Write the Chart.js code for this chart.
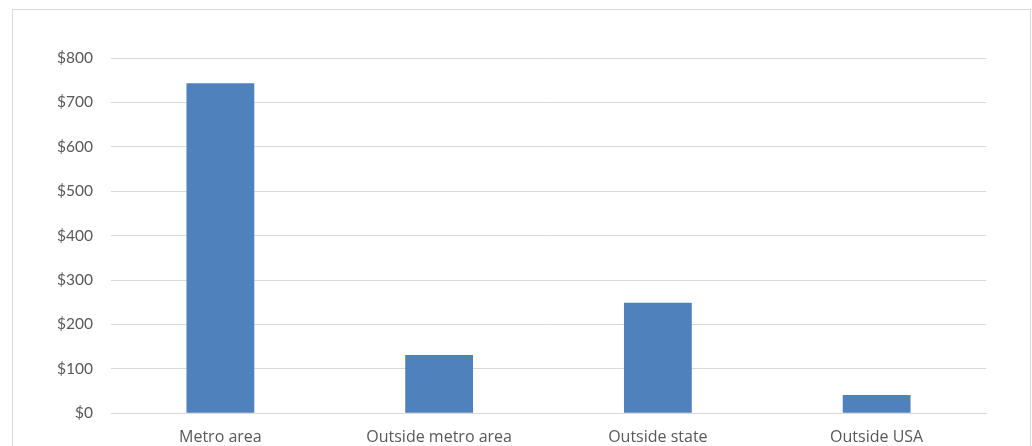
<!DOCTYPE html>
<html>
<head>
<meta charset="utf-8">
<script src="https://cdn.jsdelivr.net/npm/chart.js@4/dist/chart.umd.min.js"></script>
<style>
  html, body { margin: 0; padding: 0; background: #fff; }
  #wrap { position: relative; width: 1032px; height: 446px; }
</style>
</head>
<body>
<div id="wrap"><canvas id="c" width="1032" height="446"></canvas></div>
<script>
// Spending by location
const categories = ['Metro area', 'Outside metro area', 'Outside state', 'Outside USA'];
const amounts = [743, 131, 249, 41];
const yTicks = [0, 100, 200, 300, 400, 500, 600, 700, 800];

const Y_FONT = "Lato, 'Open Sans', 'Liberation Sans', sans-serif";
const X_FONT = "'Open Sans', Lato, 'Liberation Sans', sans-serif";

// Light frame around the whole chart
const framePlugin = {
  id: 'frame',
  beforeDraw(chart) {
    const ctx = chart.ctx;
    ctx.save();
    ctx.fillStyle = '#ffffff';
    ctx.fillRect(0, 0, chart.width, chart.height);
    ctx.strokeStyle = '#d9d9d9';
    ctx.lineWidth = 1;
    ctx.strokeRect(12.5, 9.5, 1018, 500);
    ctx.restore();
  }
};

new Chart(document.getElementById('c'), {
  type: 'bar',
  data: {
    labels: categories,
    datasets: [{
      data: amounts,
      backgroundColor: '#4f81bd',
      borderWidth: 0,
      categoryPercentage: 1,
      barPercentage: 0.31
    }]
  },
  options: {
    responsive: false,
    animation: false,
    layout: { padding: { top: 58, right: 46, bottom: 0, left: 0 } },
    plugins: { legend: { display: false }, tooltip: { enabled: false } },
    scales: {
      x: {
        grid: { display: false, drawTicks: false },
        border: { display: true, color: '#d9d9d9', width: 1 },
        ticks: { color: '#595959', font: { family: X_FONT, size: 16 }, padding: 15, maxRotation: 0 },
        afterFit(scale) { scale.height = 32.7; }
      },
      y: {
        min: yTicks[0],
        max: yTicks[yTicks.length - 1],
        afterBuildTicks(scale) { scale.ticks = yTicks.map(v => ({ value: v })); },
        grid: { color: '#d9d9d9', lineWidth: 1, drawTicks: false },
        border: { display: false },
        ticks: {
          color: '#595959',
          font: { family: Y_FONT, size: 15.5 },
          padding: 18,
          callback: v => '$' + v
        },
        afterFit(scale) { scale.width = 111; }
      }
    }
  },
  plugins: [framePlugin]
});
</script>
</body>
</html>
